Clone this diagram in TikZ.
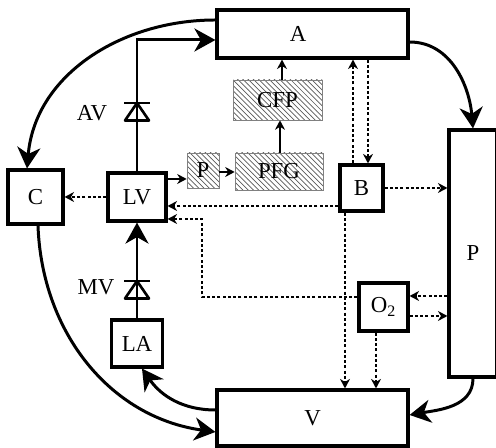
\documentclass[tikz,border=0pt]{standalone}
\usepackage{fontspec}
\setmainfont{Liberation Serif}
\usetikzlibrary{arrows.meta,patterns}

\tikzset{
  box/.style={draw, line width=1.8pt, inner sep=0pt},
  hatchbox/.style={draw=gray, thin, pattern=north west lines, pattern color=black!65, inner sep=0pt},
  flow/.style={line width=1.7pt, -{Stealth[length=4.2mm,width=4.6mm,inset=1.3mm]}},
  thinflow/.style={line width=0.8pt, -{Stealth[length=1.9mm,width=2mm]}},
  sig/.style={line width=0.75pt, dash pattern=on 1.7pt off 1.3pt, -{Stealth[length=1.9mm,width=2mm]}},
  valve/.pic={
    \draw[line width=1.5pt] (-0.26,0.17) -- (0.26,0.17);
    \draw[line width=1.5pt, line join=round] (-0.24,-0.18) -- (0.24,-0.18) -- (0,0.17) -- cycle;
  }
}

\begin{document}
\begin{tikzpicture}[every node/.style={font=\fontsize{13}{15}\selectfont}]
	\useasboundingbox (0,0) rectangle (9.92,8.96);
	% blocks
	\node[box, minimum width=3.82cm, minimum height=0.96cm] (A) at (6.25,8.28) {};
	\node (Atxt) at (5.96,8.28) {A};
	\node[box, minimum width=0.96cm, minimum height=4.94cm] (Pb) at (9.46,3.89) {P};
	\node[box, minimum width=1.1cm, minimum height=1.08cm] (C) at (0.71,5.02) {C};
	\node[box, minimum width=1.16cm, minimum height=0.96cm] (LV) at (2.74,5.02) {LV};
	\node[hatchbox, minimum width=0.64cm, minimum height=0.7cm] (Ps) at (4.06,5.55) {P};
	\node[hatchbox, minimum width=1.76cm, minimum height=0.74cm] (PFG) at (5.58,5.53) {PFG};
	\node[hatchbox, minimum width=1.78cm, minimum height=0.8cm] (CFP) at (5.55,6.96) {CFP};
	\node[box, minimum width=0.86cm, minimum height=0.92cm] (B) at (7.23,5.2) {B};
	\node[box, minimum width=0.98cm, minimum height=0.96cm] (O2) at (7.67,2.82) {O\textsubscript{2}};
	\node[box, minimum width=3.82cm, minimum height=1.12cm] (V) at (6.25,0.6) {V};
	\node[box, minimum width=1.02cm, minimum height=0.94cm] (LA) at (2.74,2.09) {LA};

	% valves
	\pic at (2.74,6.73) {valve};
	\node (AV) at (1.84,6.7) {AV};
	\pic at (2.74,3.17) {valve};
	\node (MV) at (1.92,3.22) {MV};

	% blood flow
	\draw[flow] (LV.north) |- ([yshift=-0.12cm]A.west);
	\draw[flow] (LA.north) -- (LV.south);
	\draw[flow] ([yshift=0.28cm]A.west) to[out=180,in=85] ([xshift=-0.17cm]C.north);
	\draw[flow] ([yshift=-0.16cm]A.east) to[out=0,in=95] (Pb.north);
	\draw[flow] (Pb.south) to[out=-90,in=10] ([yshift=0.06cm]V.east);
	\draw[flow] ([yshift=0.16cm]V.west) to[out=180,in=-55] ([xshift=0.1cm]LA.south);
	\draw[flow] ([xshift=0.05cm]C.south) to[out=-88,in=172] ([yshift=-0.28cm]V.west);

	% pacing
	\draw[thinflow] (LV.east |- 0,5.38) -- (Ps.west |- 0,5.38);
	\draw[thinflow] (Ps.east |- 0,5.52) -- (PFG.west |- 0,5.52);
	\draw[thinflow] (PFG.north -| 5.6,0) -- (CFP.south -| 5.6,0);
	\draw[thinflow] (CFP.north -| 5.64,0) -- (A.south -| 5.64,0);

	% signals
	\draw[sig] (LV.west) -- (C.east);
	\draw[sig] (B.west |- 0,4.84) -- (LV.east |- 0,4.84);
	\draw[sig] (O2.west |- 0,3.02) -| (4.04,4.58) -- (LV.east |- 0,4.58);
	\draw[sig] (B.north -| 7.06,0) -- (A.south -| 7.06,0);
	\draw[sig] (A.south -| 7.36,0) -- (B.north -| 7.36,0);
	\draw[sig] (B.east) -- (B.east -| Pb.west);
	\draw[sig] (B.south -| 6.9,0) -- (V.north -| 6.9,0);
	\draw[sig] (O2.south -| 7.52,0) -- (V.north -| 7.52,0);
	\draw[sig] (Pb.west |- 0,3.04) -- (O2.east |- 0,3.04);
	\draw[sig] (O2.east |- 0,2.64) -- (Pb.west |- 0,2.64);
\end{tikzpicture}
\end{document}
